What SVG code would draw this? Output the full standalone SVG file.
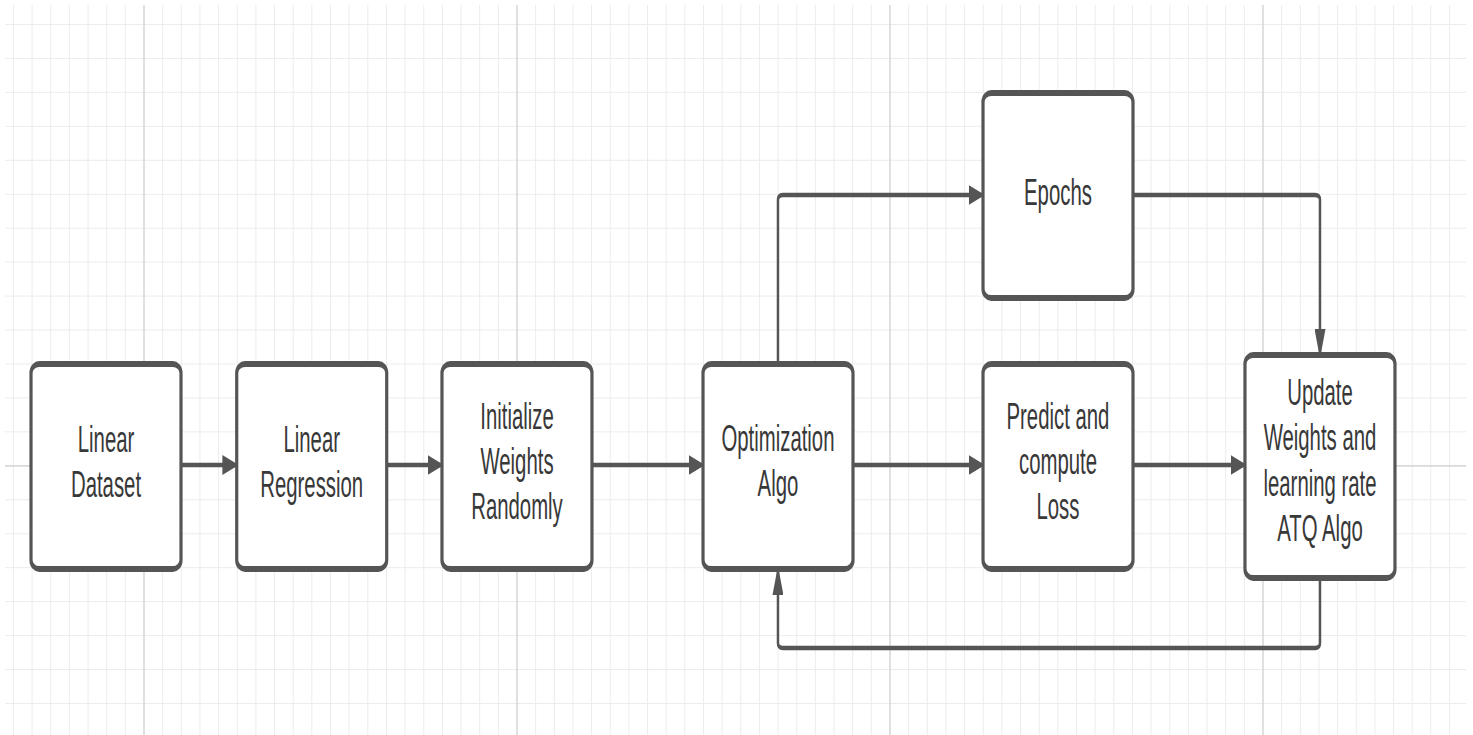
<svg xmlns="http://www.w3.org/2000/svg" width="1473" height="735" viewBox="0 0 1473 735">
<style>
.minor{fill:none;stroke:#ececec;stroke-width:1}
.major{fill:none;stroke:#d9d9d9;stroke-width:1.6}
.box{fill:#ffffff;stroke:#555555;stroke-width:5.8}
.lbl{font-family:"Liberation Sans",Arial,sans-serif;font-size:37px;fill:#383838;text-anchor:middle}
.conn{fill:none;stroke:#555555;stroke-width:4.5;marker-end:url(#ah)}
</style>
<defs>
<marker id="ah" markerUnits="userSpaceOnUse" markerWidth="30" markerHeight="20" refX="22" refY="9.5" orient="auto" viewBox="0 0 28 19">
<path d="M0,0 L28,9.5 L0,19 z" fill="#555555"/>
</marker>
</defs>
<rect width="1473" height="735" fill="#ffffff"/>
<g id="grid">
<path class="minor" d="M13.45 5V735M32.1 5V735M50.75 5V735M69.4 5V735M88.05 5V735M106.7 5V735M125.35 5V735M162.65 5V735M181.3 5V735M199.95 5V735M218.6 5V735M237.25 5V735M255.9 5V735M274.55 5V735M293.2 5V735M311.85 5V735M330.5 5V735M349.15 5V735M367.8 5V735M386.45 5V735M405.1 5V735M423.75 5V735M442.4 5V735M461.05 5V735M479.7 5V735M498.35 5V735M535.65 5V735M554.3 5V735M572.95 5V735M591.6 5V735M610.25 5V735M628.9 5V735M647.55 5V735M666.2 5V735M684.85 5V735M703.5 5V735M722.15 5V735M740.8 5V735M759.45 5V735M778.1 5V735M796.75 5V735M815.4 5V735M834.05 5V735M852.7 5V735M871.35 5V735M908.65 5V735M927.3 5V735M945.95 5V735M964.6 5V735M983.25 5V735M1001.9 5V735M1020.55 5V735M1039.2 5V735M1057.85 5V735M1076.5 5V735M1095.15 5V735M1113.8 5V735M1132.45 5V735M1151.1 5V735M1169.75 5V735M1188.4 5V735M1207.05 5V735M1225.7 5V735M1244.35 5V735M1281.65 5V735M1300.3 5V735M1318.95 5V735M1337.6 5V735M1356.25 5V735M1374.9 5V735M1393.55 5V735M1412.2 5V735M1430.85 5V735M1449.5 5V735"/>
<path class="minor" d="M5 24.5H1466M5 58.45H1466M5 92.4H1466M5 126.35H1466M5 160.3H1466M5 194.25H1466M5 228.2H1466M5 262.15H1466M5 296.1H1466M5 330.05H1466M5 364H1466M5 397.95H1466M5 431.9H1466M5 499.8H1466M5 533.75H1466M5 567.7H1466M5 601.65H1466M5 635.6H1466M5 669.55H1466M5 703.5H1466"/>
<path class="major" d="M144 5V735M517 5V735M890 5V735M1263 5V735M5 465.85H1466"/>
</g>
<g transform="scale(0.55,1)">
<g id="connectors">
<path class="conn" d="M329.1,465 H427.5"/>
<path class="conn" d="M703.1,465 H800.7"/>
<path class="conn" d="M1076.4,465 H1275.3"/>
<path class="conn" d="M1550.9,465 H1784.4"/>
<path class="conn" d="M2060,465 H2260.7"/>
<path class="conn" d="M1414.5,364 V200 Q1414.5,195 1423.5,195 H1784.4"/>
<path class="conn" d="M2060,195 H2391 Q2400,195 2400,200 V352"/>
<path class="conn" d="M2400,578 V643 Q2400,648 2391,648 H1423.5 Q1414.5,648 1414.5,643 V572"/>
</g>
<g id="linear-dataset">
<rect class="box" x="56.4" y="364" width="272.7" height="205" rx="15" ry="9"/>
<text class="lbl" x="192.75" y="452">Linear</text>
<text class="lbl" x="192.75" y="497">Dataset</text>
</g>
<g id="linear-regression">
<rect class="box" x="430.4" y="364" width="272.7" height="205" rx="15" ry="9"/>
<text class="lbl" x="566.75" y="452">Linear</text>
<text class="lbl" x="566.75" y="497">Regression</text>
</g>
<g id="initialize-weights">
<rect class="box" x="803.6" y="364" width="272.7" height="205" rx="15" ry="9"/>
<text class="lbl" x="940" y="429">Initialize</text>
<text class="lbl" x="940" y="474">Weights</text>
<text class="lbl" x="940" y="519">Randomly</text>
</g>
<g id="optimization-algo">
<rect class="box" x="1278.2" y="364" width="272.7" height="205" rx="15" ry="9"/>
<text class="lbl" x="1414.5" y="451">Optimization</text>
<text class="lbl" x="1414.5" y="496">Algo</text>
</g>
<g id="epochs">
<rect class="box" x="1787.3" y="93" width="272.7" height="205" rx="15" ry="9"/>
<text class="lbl" x="1923.6" y="205">Epochs</text>
</g>
<g id="predict-loss">
<rect class="box" x="1787.3" y="364" width="272.7" height="205" rx="15" ry="9"/>
<text class="lbl" x="1923.6" y="429">Predict and</text>
<text class="lbl" x="1923.6" y="474">compute</text>
<text class="lbl" x="1923.6" y="519">Loss</text>
</g>
<g id="update-weights">
<rect class="box" x="2263.6" y="355" width="272.7" height="223" rx="15" ry="9"/>
<text class="lbl" x="2400" y="405">Update</text>
<text class="lbl" x="2400" y="450.5">Weights and</text>
<text class="lbl" x="2400" y="496">learning rate</text>
<text class="lbl" x="2400" y="541.5">ATQ Algo</text>
</g>
</g>
</svg>
